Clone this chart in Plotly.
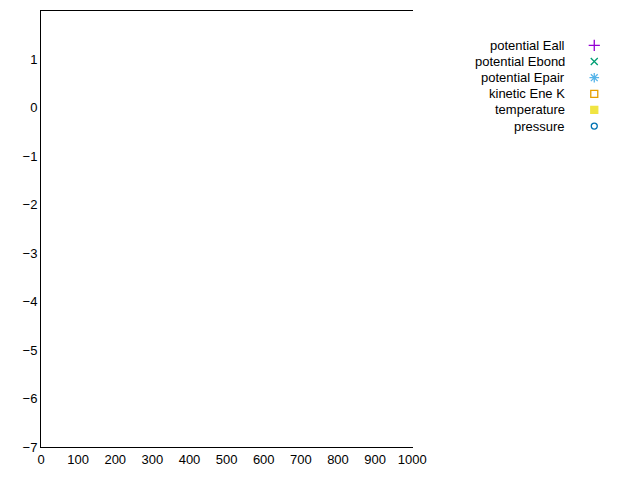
import plotly.graph_objects as go

steps = [0, 50, 100, 150, 200, 250, 300, 350, 400, 450, 500, 550, 600, 650, 700, 750, 800, 850, 900, 950]
e_all = [-5.83, -5.86, -5.90, -5.94, -5.96, -5.99, -5.99, -5.99, -6.03, -5.99,
         -6.01, -6.03, -6.03, -6.01, -6.03, -6.03, -6.01, -6.03, -6.03, -6.03]
e_bond = [0.51, 0.51, 0.51, 0.51, 0.51, 0.51, 0.51, 0.51, 0.51, 0.51,
          0.51, 0.51, 0.48, 0.48, 0.51, 0.51, 0.48, 0.50, 0.50, 0.50]
e_pair = [-6.38, -6.40, -6.42, -6.46, -6.49, -6.51, -6.51, -6.53, -6.55, -6.51,
          -6.53, -6.55, -6.53, -6.53, -6.55, -6.55, -6.53, -6.53, -6.55, -6.55]
kinetic = [1.79, 1.70, 1.62, 1.60, 1.55, 1.54, 1.52, 1.52, 1.52, 1.47,
           1.49, 1.52, 1.52, 1.49, 1.52, 1.49, 1.49, 1.49, 1.49, 1.49]
temperature = [1.18, 1.12, 1.08, 1.06, 1.03, 1.01, 1.01, 1.01, 0.99, 0.98,
               0.99, 1.01, 0.99, 0.99, 0.99, 0.99, 0.99, 0.99, 0.99, 0.99]
pressure = [0.89, 1.01, 0.85, 0.91, 0.74, 0.66, 0.56, 0.66, 0.62, 0.60,
            0.62, 0.66, 0.72, 0.70, 0.56, 0.60, 0.79, 0.56, 0.54, 0.54]

series = [
    ("potential Eall", e_all, "cross-thin", "#9400d3", 8),
    ("potential Ebond", e_bond, "x-thin", "#009e73", 7),
    ("potential Epair", e_pair, "asterisk-open", "#56b4e9", 8),
    ("kinetic Ene K", kinetic, "square-open", "#e69f00", 7),
    ("temperature", temperature, "square", "#f0e442", 7),
    ("pressure", pressure, "circle-open", "#0072b2", 6),
]

fig = go.Figure()
for i, (name, vals, sym, col, sz) in enumerate(series):
    mk = dict(symbol=sym, color=col, size=sz, line=dict(color=col, width=1.3))
    fig.add_trace(go.Scatter(x=steps, y=vals, mode="markers", name=name,
                             showlegend=False, marker=mk))
    # gnuplot-style key: text, then symbol to its right
    ly = 0.921 - i * 0.037
    fig.add_trace(go.Scatter(x=[0.933], y=[ly], xaxis="x2", yaxis="y2",
                             mode="markers", showlegend=False, marker=mk))
    fig.add_annotation(x=0.887, y=ly, xref="x2", yref="y2", text=name,
                       showarrow=False, xanchor="right", font=dict(size=13, color="black"))

axis_style = dict(showline=True, linecolor="black", linewidth=1, mirror="allticks",
                  ticks="inside", ticklen=6, tickcolor="black", showgrid=False,
                  zeroline=False, tickfont=dict(size=13, color="black"))

fig.update_layout(
    width=640, height=480,
    paper_bgcolor="white", plot_bgcolor="white",
    font=dict(family="Liberation Sans, Arial, sans-serif", size=13),
    margin=dict(l=33, r=0, t=3, b=41),
    xaxis=dict(range=[0, 1000], dtick=100, domain=[0, 0.626], **axis_style),
    yaxis=dict(range=[-7, 2], dtick=1, **axis_style),
    xaxis2=dict(domain=[0, 1], range=[0, 1], visible=False, anchor="y2"),
    yaxis2=dict(domain=[0, 1], range=[0, 1], visible=False, anchor="x2"),
)
fig.write_html("out.html")
